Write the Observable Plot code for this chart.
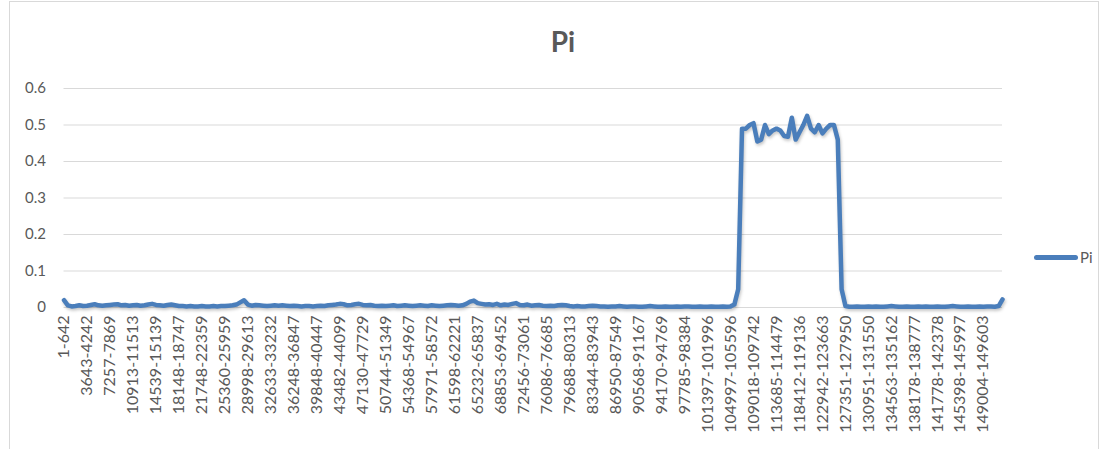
<!DOCTYPE html>
<html>
<head>
<meta charset="utf-8">
<script src="https://cdn.jsdelivr.net/npm/d3@7"></script>
<script src="https://cdn.jsdelivr.net/npm/@observablehq/plot@0.6"></script>
<style>
  html, body { margin: 0; padding: 0; background: #fff; }
  body { width: 1109px; height: 449px; overflow: hidden; position: relative; font-family: Lato, "Open Sans", sans-serif; }
  #frame { position: absolute; left: 9px; top: 1px; width: 1090px; height: 470px; border: 1px solid #d9d9d9; box-sizing: border-box; }
  #chart { position: absolute; left: 0; top: 0; }
  #title { position: absolute; left: 0; width: 1126px; top: 24px; text-align: center; font-size: 28px; font-weight: bold; color: #595959; }
  #legend { position: absolute; left: 1034px; top: 248px; display: flex; align-items: center; font-size: 15px; color: #595959; }
  #legend .swatch { width: 44px; height: 5px; border-radius: 3px; background: #4a7ebb; margin-right: 2px; }
  .pi-line path { filter: drop-shadow(1px 2px 1.5px rgba(0,0,0,0.22)); }
</style>
</head>
<body>
<div id="frame"></div>
<div id="chart"></div>
<div id="title">Pi</div>
<div id="legend"><div class="swatch"></div><span>Pi</span></div>
<script>
// Sliding-window labels; one label is shown for every sixth window
const tickLabels = [
  "1-642", "3643-4242", "7257-7869", "10913-11513", "14539-15139", "18148-18747",
  "21748-22359", "25360-25959", "28998-29613", "32633-33232", "36248-36847",
  "39848-40447", "43482-44099", "47130-47729", "50744-51349", "54368-54967",
  "57971-58572", "61598-62221", "65232-65837", "68853-69452", "72456-73061",
  "76086-76685", "79688-80313", "83344-83943", "86950-87549", "90568-91167",
  "94170-94769", "97785-98384", "101397-101996", "104997-105596", "109018-109742",
  "113685-114479", "118412-119136", "122942-123663", "127351-127950", "130951-131550",
  "134563-135162", "138178-138777", "141778-142378", "145398-145997", "149004-149603"
];
const tickEvery = 6;

// Nucleotide diversity (Pi) per window, in window order
const pi = [
  0.020, 0.006, 0.003, 0.004, 0.006, 0.004, 0.005, 0.007, 0.009, 0.006,
  0.005, 0.006, 0.007, 0.008, 0.009, 0.006, 0.007, 0.005, 0.006, 0.007,
  0.005, 0.006, 0.008, 0.010, 0.007, 0.006, 0.005, 0.007, 0.008, 0.006,
  0.004, 0.004, 0.003, 0.004, 0.003, 0.003, 0.004, 0.003, 0.003, 0.004,
  0.003, 0.004, 0.004, 0.005, 0.006, 0.008, 0.014, 0.020, 0.008, 0.005,
  0.007, 0.006, 0.005, 0.004, 0.005, 0.006, 0.005, 0.006, 0.005, 0.004,
  0.005, 0.004, 0.003, 0.004, 0.004, 0.003, 0.004, 0.005, 0.004, 0.006,
  0.007, 0.008, 0.010, 0.009, 0.006, 0.007, 0.009, 0.010, 0.007, 0.006,
  0.007, 0.005, 0.004, 0.005, 0.004, 0.005, 0.006, 0.004, 0.005, 0.006,
  0.005, 0.004, 0.005, 0.006, 0.005, 0.004, 0.006, 0.005, 0.004, 0.005,
  0.006, 0.007, 0.006, 0.005, 0.006, 0.010, 0.016, 0.019, 0.012, 0.010,
  0.008, 0.009, 0.007, 0.010, 0.006, 0.008, 0.007, 0.010, 0.012, 0.007,
  0.006, 0.008, 0.005, 0.006, 0.007, 0.005, 0.004, 0.005, 0.004, 0.006,
  0.007, 0.006, 0.004, 0.003, 0.004, 0.003, 0.003, 0.004, 0.005, 0.004,
  0.003, 0.003, 0.002, 0.003, 0.003, 0.004, 0.003, 0.002, 0.003, 0.003,
  0.002, 0.002, 0.003, 0.004, 0.003, 0.002, 0.002, 0.003, 0.002, 0.002,
  0.003, 0.002, 0.003, 0.003, 0.002, 0.002, 0.003, 0.002, 0.002, 0.003,
  0.002, 0.002, 0.003, 0.002, 0.003, 0.008, 0.050, 0.490, 0.490, 0.500,
  0.505, 0.455, 0.460, 0.500, 0.475, 0.485, 0.490, 0.485, 0.470, 0.468,
  0.520, 0.460, 0.480, 0.500, 0.525, 0.490, 0.480, 0.500, 0.477, 0.490,
  0.500, 0.500, 0.460, 0.050, 0.004, 0.002, 0.002, 0.003, 0.002, 0.002,
  0.003, 0.002, 0.003, 0.002, 0.002, 0.003, 0.004, 0.003, 0.002, 0.002,
  0.003, 0.002, 0.002, 0.003, 0.002, 0.003, 0.002, 0.002, 0.003, 0.002,
  0.002, 0.003, 0.004, 0.003, 0.002, 0.002, 0.003, 0.002, 0.002, 0.003,
  0.002, 0.003, 0.003, 0.002, 0.004, 0.022
];

const yTicks = [0, 0.1, 0.2, 0.3, 0.4, 0.5, 0.6];
const tickIdx = tickLabels.map((_, k) => k * tickEvery);
const rows = pi.map((v, i) => ({i, v}));

const chart = Plot.plot({
  width: 1109,
  height: 449,
  marginTop: 88,
  marginBottom: 142,
  marginLeft: 63.5,
  marginRight: 107,
  style: {fontFamily: "Lato, 'Open Sans', sans-serif", fontSize: "15px", color: "#595959", background: "transparent"},
  x: {domain: [0, pi.length - 1]},
  y: {domain: [0, 0.6]},
  marks: [
    Plot.gridY(yTicks.slice(1), {stroke: "#d9d9d9", strokeOpacity: 1, strokeWidth: 1}),
    Plot.ruleY([0], {stroke: "#d9d9d9", strokeWidth: 1.2}),
    Plot.axisY(yTicks, {tickSize: 0, tickPadding: 18, tickFormat: d3.format(".1~f"), fill: "#595959", fontSize: 15, label: null}),
    Plot.axisX(tickIdx, {tickSize: 0, tickPadding: 8, tickRotate: -90, tickFormat: i => tickLabels[i / tickEvery], fill: "#595959", fontSize: 16, label: null}),
    Plot.line(rows, {x: "i", y: "v", stroke: "#4a7ebb", strokeWidth: 4.5, strokeLinejoin: "round", strokeLinecap: "round", className: "pi-line"})
  ]
});
document.getElementById("chart").appendChild(chart);
</script>
</body>
</html>
